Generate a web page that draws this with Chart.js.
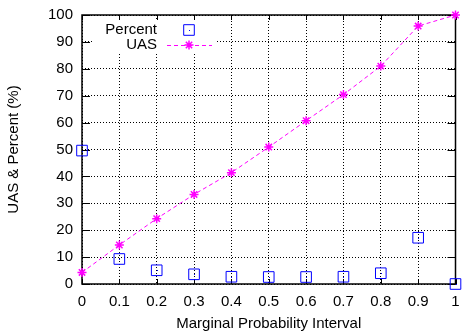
<!DOCTYPE html>
<html><head><meta charset="utf-8">
<script src="https://cdn.jsdelivr.net/npm/chart.js@4/dist/chart.umd.min.js"></script>
<style>html,body{margin:0;padding:0;background:#fff}#wrap{width:464px;height:334px}</style>
</head><body><div id="wrap"><canvas id="c" width="464" height="334"></canvas></div>
<script>
const categories = [0, 0.1, 0.2, 0.3, 0.4, 0.5, 0.6, 0.7, 0.8, 0.9, 1];
const xTickLabels = ['0', '0.1', '0.2', '0.3', '0.4', '0.5', '0.6', '0.7', '0.8', '0.9', '1'];
const yTicks = [0, 10, 20, 30, 40, 50, 60, 70, 80, 90, 100];
const yTickLabels = ['0', '10', '20', '30', '40', '50', '60', '70', '80', '90', '100'];
const percentValues = [49.6, 9.3, 5.1, 3.6, 2.7, 2.6, 2.6, 2.7, 4.0, 17.2, 0];
const uasValues = [4.3, 14.5, 24.3, 33.3, 41.4, 50.9, 60.7, 70.4, 81.0, 95.9, 100];
const seriesNames = ['Percent', 'UAS'];
const xTitle = 'Marginal Probability Interval';
const yTitle = 'UAS & Percent (%)';

const FONT = '"Liberation Sans", Arial, Helvetica, sans-serif';
const BLUE = '#0000ff';
const MAGENTA = '#ff00ff';

const framePlugin = {
  id: 'frame',
  beforeDatasetsDraw(chart) {
    const {ctx, chartArea: a, scales: {x, y}} = chart;
    ctx.save();
    // legend box blanks grid
    ctx.fillStyle = '#fff';
    ctx.fillRect(a.left + 12, a.top + 5, 123, 33);
    // frame
    ctx.strokeStyle = '#000';
    ctx.lineWidth = 1.5;
    ctx.setLineDash([]);
    ctx.strokeRect(a.left, a.top, a.right - a.left, a.bottom - a.top);
    ctx.lineWidth = 1;
    ctx.beginPath();
    categories.forEach(v => {
      const px = Math.round(x.getPixelForValue(v)) + 0.5;
      ctx.moveTo(px, a.bottom); ctx.lineTo(px, a.bottom - 5);
      ctx.moveTo(px, a.top); ctx.lineTo(px, a.top + 5);
    });
    yTicks.forEach(v => {
      const py = Math.round(y.getPixelForValue(v)) + 0.5;
      ctx.moveTo(a.left, py); ctx.lineTo(a.left + 8, py);
      ctx.moveTo(a.right, py); ctx.lineTo(a.right - 8, py);
    });
    ctx.stroke();
    // legend
    ctx.fillStyle = '#000';
    ctx.font = '15px ' + FONT;
    ctx.textAlign = 'right';
    ctx.textBaseline = 'middle';
    const lx = a.left + 75, sx = a.left + 107;
    const y1 = a.top + 15, y2 = a.top + 30;
    ctx.fillText(seriesNames[0], lx, y1);
    ctx.fillText(seriesNames[1], lx, y2);
    ctx.strokeStyle = BLUE;
    ctx.fillStyle = 'rgba(0,0,0,0)';
    Chart.helpers.drawPoint(ctx, {pointStyle: 'rect', radius: 7.5, rotation: 0, borderWidth: 1}, sx, y1);
    ctx.fillStyle = BLUE;
    ctx.fillRect(Math.round(sx), Math.round(y1), 1, 1);
    ctx.strokeStyle = MAGENTA;
    ctx.lineWidth = 1;
    ctx.setLineDash([4, 3]);
    ctx.beginPath();
    ctx.moveTo(sx - 22, Math.round(y2) + 0.5);
    ctx.lineTo(sx + 23, Math.round(y2) + 0.5);
    ctx.stroke();
    ctx.setLineDash([]);
    ctx.lineWidth = 1.5;
    Chart.helpers.drawPoint(ctx, {pointStyle: 'star', radius: 4.5, rotation: 0, borderWidth: 1.5}, sx, y2);
    ctx.restore();
  },
  afterDatasetsDraw(chart) {
    const {ctx} = chart;
    ctx.save();
    ctx.fillStyle = BLUE;
    chart.getDatasetMeta(0).data.forEach(pt => {
      ctx.fillRect(Math.round(pt.x), Math.round(pt.y), 1, 1);
    });
    ctx.restore();
  }
};

new Chart(document.getElementById('c'), {
  type: 'scatter',
  data: {
    datasets: [
      {
        label: seriesNames[0],
        data: categories.map((c, i) => ({x: c, y: percentValues[i]})),
        showLine: false,
        pointStyle: 'rect',
        pointRadius: 7.5,
        pointBorderWidth: 1,
        borderColor: BLUE,
        pointBorderColor: BLUE,
        pointBackgroundColor: 'rgba(0,0,0,0)',
        clip: false
      },
      {
        label: seriesNames[1],
        data: categories.map((c, i) => ({x: c, y: uasValues[i]})),
        showLine: true,
        borderColor: MAGENTA,
        borderWidth: 1,
        borderDash: [4, 3],
        pointStyle: 'star',
        pointRadius: 4.5,
        pointBorderWidth: 1.5,
        pointBorderColor: MAGENTA,
        pointBackgroundColor: MAGENTA,
        tension: 0,
        clip: false
      }
    ]
  },
  options: {
    responsive: false,
    devicePixelRatio: 1,
    animation: false,
    layout: {padding: {left: 0, right: 3, top: 15, bottom: 0}},
    plugins: {legend: {display: false}, tooltip: {enabled: false}},
    scales: {
      x: {
        type: 'linear', min: 0, max: 1,
        afterBuildTicks: s => { s.ticks = categories.map(v => ({value: v})); },
        afterFit: s => { s.height = 50; s.paddingLeft = 0; s.paddingRight = 0; },
        border: {display: false, dash: [1, 2]},
        grid: {color: '#000', lineWidth: 1, drawTicks: false},
        ticks: {
          padding: 9, color: '#000', maxRotation: 0, autoSkip: false,
          font: {family: FONT, size: 15},
          callback: (v, i) => xTickLabels[i]
        },
        title: {display: true, text: xTitle, color: '#000', font: {family: FONT, size: 15}, padding: {top: 0, bottom: 1}}
      },
      y: {
        type: 'linear', min: 0, max: 100,
        afterBuildTicks: s => { s.ticks = yTicks.map(v => ({value: v})); },
        afterFit: s => { s.width = 82; s.paddingTop = 0; s.paddingBottom = 0; },
        border: {display: false, dash: [1, 2]},
        grid: {color: '#000', lineWidth: 1, drawTicks: false},
        ticks: {
          padding: 9, color: '#000', autoSkip: false,
          font: {family: FONT, size: 15},
          callback: (v, i) => yTickLabels[i]
        },
        title: {display: true, text: yTitle, color: '#000', font: {family: FONT, size: 15}, padding: {top: 5, bottom: 0}}
      }
    }
  },
  plugins: [framePlugin]
});
</script>
</body></html>
